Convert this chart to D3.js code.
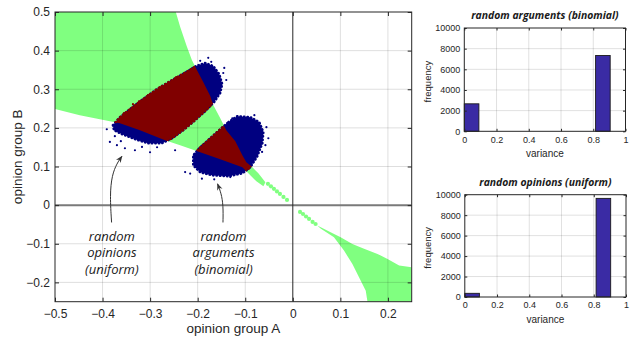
<!DOCTYPE html>
<html>
<head>
<meta charset="utf-8">
<script src="https://cdn.jsdelivr.net/npm/d3@7"></script>
<style>
    body { margin: 0; background: #fff; }
    svg text { font-family: "Liberation Sans", Arial, sans-serif; fill: #262626; }
    .ann { font-family: "Open Sans", sans-serif; font-style: italic; font-size: 13px; fill: #1a1a1a; }
    .htitle { font-family: "Open Sans", sans-serif; font-style: italic; font-weight: bold; font-size: 10.4px; fill: #1a1a1a; }
</style>
</head>
<body>
<svg id="chart" width="631" height="337"></svg>
<script>
// ---- main scatter: region outlines in data units (opinion A, opinion B) ----
const greenUpper = [
    [-0.5, 0.5], [-0.246, 0.5], [-0.2369, 0.4616], [-0.2228, 0.4104], [-0.2122, 0.3758],
    [-0.2017, 0.3499], [-0.1884, 0.3187], [-0.1736, 0.2823], [-0.1673, 0.259], [-0.1525, 0.2252],
    [-0.1399, 0.194], [-0.1209, 0.1655], [-0.1061, 0.1291], [-0.0977, 0.1109], [-0.085, 0.0979],
    [-0.0724, 0.0823], [-0.0576, 0.059], [-0.0618, 0.0486], [-0.0766, 0.0616], [-0.0935, 0.0823],
    [-0.1061, 0.0979], [-0.1525, 0.1187], [-0.1947, 0.1369], [-0.2369, 0.1551], [-0.2686, 0.1681],
    [-0.3213, 0.194], [-0.3635, 0.2122], [-0.4057, 0.2226], [-0.4479, 0.233], [-0.5, 0.2486]
];
const greenLower = [
    [0.0515, -0.0527], [0.0795, -0.0701], [0.1006, -0.0831], [0.1253, -0.1003], [0.1498, -0.1132],
    [0.1781, -0.1262], [0.1992, -0.1392], [0.2236, -0.1566], [0.25, -0.161], [0.25, -0.25],
    [0.157, -0.25], [0.1534, -0.2216], [0.1392, -0.187], [0.1253, -0.1522], [0.1076, -0.1177],
    [0.0865, -0.0831], [0.0584, -0.0605]
];
const greenDots = [
    [-0.0523, 0.0551], [-0.046, 0.0486], [-0.0397, 0.0421], [-0.0333, 0.0356], [-0.027, 0.0291],
    [-0.0196, 0.0213], [-0.0122, 0.0135], [0.0152, -0.0177], [0.0215, -0.0229], [0.0278, -0.0294],
    [0.0342, -0.0358], [0.0416, -0.0436], [0.0479, -0.0488]
];

// random opinions (uniform) cloud
const cloudUniform = [
    [-0.3783, 0.207], [-0.3635, 0.2278], [-0.3424, 0.2486], [-0.315, 0.2745], [-0.2854, 0.3005],
    [-0.2538, 0.3239], [-0.2243, 0.3447], [-0.2032, 0.3603], [-0.1842, 0.3681], [-0.1673, 0.3603],
    [-0.1546, 0.3395], [-0.1483, 0.3135], [-0.1525, 0.2901], [-0.1652, 0.2668], [-0.1842, 0.2434],
    [-0.2053, 0.22], [-0.2306, 0.194], [-0.2538, 0.1732], [-0.2749, 0.1603], [-0.3044, 0.1603],
    [-0.3319, 0.1706], [-0.3593, 0.1836], [-0.3762, 0.194]
];
// random arguments (binomial) cloud
const cloudBinomial = [
    [-0.1357, 0.2148], [-0.1167, 0.2304], [-0.0892, 0.2278], [-0.0703, 0.2148], [-0.0618, 0.1888],
    [-0.0639, 0.1603], [-0.0745, 0.1265], [-0.0892, 0.0979], [-0.1061, 0.0823], [-0.1357, 0.0745],
    [-0.1694, 0.0771], [-0.1947, 0.0849], [-0.2095, 0.1031], [-0.2095, 0.1291], [-0.1968, 0.1473],
    [-0.1736, 0.1732], [-0.1525, 0.1966]
];
const blueStray = [
    [-0.3846, 0.1636], [-0.3741, 0.1784], [-0.3698, 0.1551], [-0.353, 0.1473], [-0.3319, 0.1421],
    [-0.3002, 0.1369], [-0.2854, 0.1499], [-0.2475, 0.1421], [-0.1947, 0.3735], [-0.1778, 0.3813],
    [-0.1715, 0.3709], [-0.1441, 0.3553], [-0.1525, 0.2979], [-0.1399, 0.3239], [-0.1652, 0.3447],
    [-0.2264, 0.0857], [-0.2158, 0.0816], [-0.1911, 0.0686], [-0.1652, 0.0668], [-0.1314, 0.0727],
    [-0.0576, 0.1551], [-0.0646, 0.1377], [-0.0555, 0.2018], [-0.0808, 0.233], [-0.1272, 0.2244],
    [-0.3911, 0.1964], [-0.3615, 0.1655], [-0.3171, 0.1506], [-0.1462, 0.3421], [-0.0514, 0.1732]
];
const redStray = [
    [-0.372, 0.2148], [-0.3361, 0.2613], [-0.3044, 0.2849], [-0.2665, 0.3135], [-0.2348, 0.3343],
    [-0.3551, 0.2382], [-0.3234, 0.2686], [-0.2792, 0.3057], [-0.2454, 0.3317], [-0.2117, 0.3525]
];

const xTicks = [-0.5, -0.4, -0.3, -0.2, -0.1, 0, 0.1, 0.2];
const yTicks = [-0.2, -0.1, 0, 0.1, 0.2, 0.3, 0.4, 0.5];

// ---- histograms of variance ----
const binEdges = [0, 0.0905, 0.181, 0.2715, 0.362, 0.4525, 0.543, 0.6335, 0.724, 0.8145, 0.905];
const countsBinomial = [2660, 0, 0, 0, 0, 0, 0, 0, 0, 7340];
const countsUniform = [360, 0, 0, 0, 0, 0, 0, 0, 0, 9640];
const histXTicks = [0, 0.2, 0.4, 0.6, 0.8, 1];
const histYTicks = [0, 2000, 4000, 6000, 8000, 10000];

const svg = d3.select("#chart");
const ink = "#262626";

// ================= main panel =================
const box = { left: 55, right: 411.7, top: 12, bottom: 301.7 };
const x = d3.scaleLinear().domain([-0.5, 0.25]).range([box.left, box.right]);
const y = d3.scaleLinear().domain([-0.25, 0.5]).range([box.bottom, box.top]);
const poly = d3.line().x(d => x(d[0])).y(d => y(d[1]));

const defs = svg.append("defs");
defs.append("clipPath").attr("id", "plotClip")
    .append("rect")
    .attr("x", box.left).attr("y", box.top)
    .attr("width", box.right - box.left).attr("height", box.bottom - box.top);
const greenClip = defs.append("clipPath").attr("id", "greenClip");
[greenUpper, greenLower].forEach(p => greenClip.append("path").attr("d", poly(p) + "Z"));

defs.append("marker").attr("id", "arrow")
    .attr("viewBox", "0 0 10 10").attr("refX", 9).attr("refY", 5)
    .attr("markerWidth", 7).attr("markerHeight", 7).attr("orient", "auto")
    .append("path").attr("d", "M0,1 L10,5 L0,9 L3,5 Z").attr("fill", "#333");

const plot = svg.append("g").attr("clip-path", "url(#plotClip)");

// green region
plot.selectAll("path.green")
    .data([greenUpper, greenLower])
    .enter().append("path")
    .attr("class", "green")
    .attr("d", d => poly(d) + "Z")
    .attr("fill", "#80ff80");
plot.selectAll("circle.gdot")
    .data(greenDots)
    .enter().append("circle")
    .attr("class", "gdot")
    .attr("cx", d => x(d[0])).attr("cy", d => y(d[1]))
    .attr("r", 2.1).attr("fill", "#80ff80");

// grid
const grid = plot.append("g").attr("stroke", "rgba(0,0,0,0.13)").attr("stroke-width", 1);
xTicks.filter(t => t > -0.5 && t !== 0).forEach(t => {
    grid.append("line").attr("x1", x(t)).attr("x2", x(t)).attr("y1", box.top).attr("y2", box.bottom);
});
yTicks.filter(t => t < 0.5 && t !== 0).forEach(t => {
    grid.append("line").attr("y1", y(t)).attr("y2", y(t)).attr("x1", box.left).attr("x2", box.right);
});

// clouds: outside the green region in blue, inside in dark red
const clouds = [cloudUniform, cloudBinomial];
plot.selectAll("path.blue")
    .data(clouds)
    .enter().append("path")
    .attr("class", "blue")
    .attr("d", d => poly(d) + "Z")
    .attr("fill", "#000080")
    .attr("stroke", "#000080").attr("stroke-width", 2.4)
    .attr("stroke-dasharray", "0.5 3").attr("stroke-linecap", "round");
plot.selectAll("circle.bdot")
    .data(blueStray)
    .enter().append("circle")
    .attr("class", "bdot")
    .attr("cx", d => x(d[0])).attr("cy", d => y(d[1]))
    .attr("r", 1.1).attr("fill", "#000080");

const red = plot.append("g").attr("clip-path", "url(#greenClip)");
red.selectAll("path")
    .data(clouds)
    .enter().append("path")
    .attr("d", d => poly(d) + "Z")
    .attr("fill", "#800000")
    .attr("stroke", "#800000").attr("stroke-width", 2.4)
    .attr("stroke-dasharray", "0.5 3.2").attr("stroke-linecap", "round");
plot.selectAll("circle.rdot")
    .data(redStray)
    .enter().append("circle")
    .attr("class", "rdot")
    .attr("cx", d => x(d[0])).attr("cy", d => y(d[1]))
    .attr("r", 1.1).attr("fill", "#800000");

// zero lines
plot.append("line")
    .attr("x1", box.left).attr("x2", box.right).attr("y1", y(0)).attr("y2", y(0))
    .attr("stroke", "#7a7a7a").attr("stroke-width", 2);
plot.append("line")
    .attr("x1", x(0)).attr("x2", x(0)).attr("y1", box.top).attr("y2", box.bottom)
    .attr("stroke", "#262626").attr("stroke-width", 1);

// axes
const fmt = d => d === 0 ? "0" : d3.format(".1f")(d);
function styleAxis(g, size) {
    g.select(".domain").remove();
    g.selectAll(".tick line").attr("stroke", ink);
    g.selectAll(".tick text").attr("fill", ink).style("font-size", size + "px");
}
svg.append("g").attr("transform", `translate(0,${box.bottom})`)
    .call(d3.axisBottom(x).tickValues(xTicks).tickSize(-4).tickPadding(8).tickFormat(fmt))
    .call(g => styleAxis(g, 12));
svg.append("g").attr("transform", `translate(0,${box.top})`)
    .call(d3.axisTop(x).tickValues(xTicks).tickSize(-4).tickFormat(""))
    .call(g => styleAxis(g, 12));
svg.append("g").attr("transform", `translate(${box.left},0)`)
    .call(d3.axisLeft(y).tickValues(yTicks).tickSize(-4).tickPadding(5).tickFormat(fmt))
    .call(g => styleAxis(g, 12));
svg.append("g").attr("transform", `translate(${box.right},0)`)
    .call(d3.axisRight(y).tickValues(yTicks).tickSize(-4).tickFormat(""))
    .call(g => styleAxis(g, 12));
svg.append("rect")
    .attr("x", box.left).attr("y", box.top)
    .attr("width", box.right - box.left).attr("height", box.bottom - box.top)
    .attr("fill", "none").attr("stroke", ink).attr("stroke-width", 1);

svg.append("text")
    .attr("x", (box.left + box.right) / 2).attr("y", 333)
    .attr("text-anchor", "middle").style("font-size", "13.5px")
    .text("opinion group A");
svg.append("text")
    .attr("transform", `translate(22,${(box.top + box.bottom) / 2}) rotate(-90)`)
    .attr("text-anchor", "middle").style("font-size", "13.5px")
    .text("opinion group B");

// annotations
const curve = d3.line().x(d => x(d[0])).y(d => y(d[1])).curve(d3.curveBasis);
const arrowUniform = [[-0.381, -0.0449], [-0.3846, 0.0252], [-0.3804, 0.0771], [-0.3698, 0.1083], [-0.3593, 0.1265]];
const arrowBinomial = [[-0.1468, -0.0449], [-0.1462, -0.0008], [-0.1504, 0.0304], [-0.1582, 0.0551]];
[arrowUniform, arrowBinomial].forEach(a => {
    svg.append("path").attr("d", curve(a))
        .attr("fill", "none").attr("stroke", "#333").attr("stroke-width", 1)
        .attr("marker-end", "url(#arrow)");
});
function annot(cx, lines) {
    const t = svg.append("text").attr("class", "ann").attr("text-anchor", "middle");
    lines.forEach((s, i) => {
        t.append("tspan").attr("x", x(cx)).attr("y", 240.5 + i * 16.5).text(s);
    });
}
annot(-0.3804, ["random", "opinions", "(uniform)"]);
annot(-0.1456, ["random", "arguments", "(binomial)"]);

// ================= histograms =================
function drawHist(hb, counts, title) {
    const hx = d3.scaleLinear().domain([0, 1]).range([hb.left, hb.right]);
    const hy = d3.scaleLinear().domain([0, 10000]).range([hb.bottom, hb.top]);
    const g = svg.append("g");

    const hg = g.append("g").attr("stroke", "rgba(0,0,0,0.12)");
    histXTicks.slice(1, -1).forEach(t => hg.append("line")
        .attr("x1", hx(t)).attr("x2", hx(t)).attr("y1", hb.top).attr("y2", hb.bottom));
    histYTicks.slice(1, -1).forEach(t => hg.append("line")
        .attr("y1", hy(t)).attr("y2", hy(t)).attr("x1", hb.left).attr("x2", hb.right));

    g.selectAll("rect.bar")
        .data(counts)
        .enter().append("rect")
        .attr("class", "bar")
        .attr("x", (d, i) => hx(binEdges[i]))
        .attr("width", (d, i) => hx(binEdges[i + 1]) - hx(binEdges[i]))
        .attr("y", d => hy(d))
        .attr("height", d => hy(0) - hy(d))
        .attr("fill", "#3a2ba4")
        .attr("stroke", "#1a1a1a").attr("stroke-width", 0.9);

    const hfmt = d => d3.format("")(d);
    g.append("g").attr("transform", `translate(0,${hb.bottom})`)
        .call(d3.axisBottom(hx).tickValues(histXTicks).tickSize(-2.5).tickPadding(5).tickFormat(hfmt))
        .call(a => styleAxis(a, 9));
    g.append("g").attr("transform", `translate(0,${hb.top})`)
        .call(d3.axisTop(hx).tickValues(histXTicks).tickSize(-2.5).tickFormat(""))
        .call(a => styleAxis(a, 9));
    g.append("g").attr("transform", `translate(${hb.left},0)`)
        .call(d3.axisLeft(hy).tickValues(histYTicks).tickSize(-2.5).tickPadding(4).tickFormat(hfmt))
        .call(a => styleAxis(a, 9));
    g.append("g").attr("transform", `translate(${hb.right},0)`)
        .call(d3.axisRight(hy).tickValues(histYTicks).tickSize(-2.5).tickFormat(""))
        .call(a => styleAxis(a, 9));
    g.append("rect")
        .attr("x", hb.left).attr("y", hb.top)
        .attr("width", hb.right - hb.left).attr("height", hb.bottom - hb.top)
        .attr("fill", "none").attr("stroke", ink).attr("stroke-width", 1);

    g.append("text").attr("class", "htitle")
        .attr("x", (hb.left + hb.right) / 2).attr("y", hb.top - 9)
        .attr("text-anchor", "middle").text(title);
    g.append("text")
        .attr("x", (hb.left + hb.right) / 2).attr("y", hb.bottom + 26)
        .attr("text-anchor", "middle").style("font-size", "10px").text("variance");
    g.append("text")
        .attr("transform", `translate(431,${(hb.top + hb.bottom) / 2 + 2}) rotate(-90)`)
        .attr("text-anchor", "middle").style("font-size", "9.5px").text("frequency");
}
drawHist({ left: 464.3, right: 625.5, top: 28, bottom: 131.3 }, countsBinomial, "random arguments (binomial)");
drawHist({ left: 464.8, right: 626, top: 194.7, bottom: 297 }, countsUniform, "random opinions (uniform)");
</script>
</body>
</html>
